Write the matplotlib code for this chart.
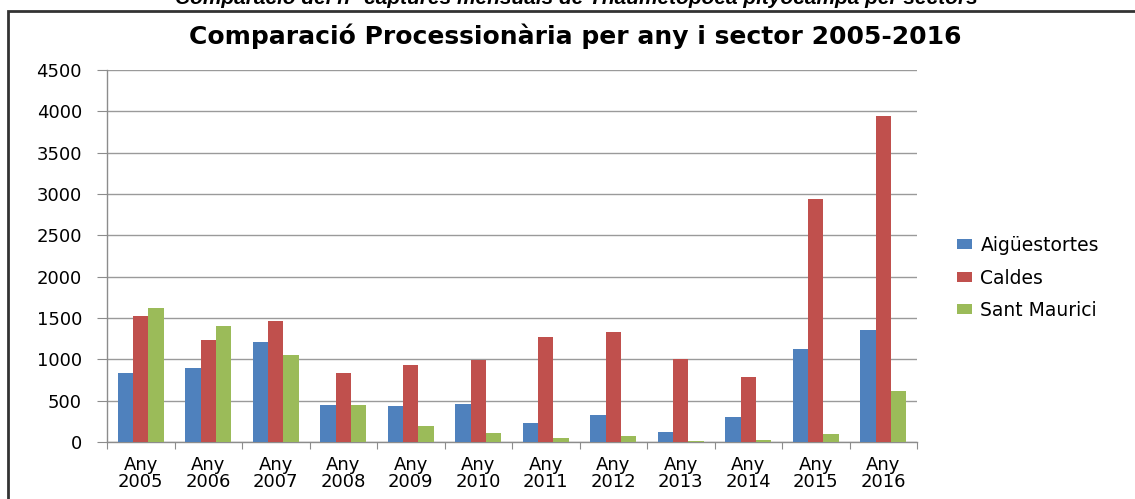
import numpy as np
import matplotlib
matplotlib.use("Agg")
import matplotlib.pyplot as plt
from matplotlib.patches import Rectangle

# Data
years = ["Any\n2005", "Any\n2006", "Any\n2007", "Any\n2008", "Any\n2009", "Any\n2010",
         "Any\n2011", "Any\n2012", "Any\n2013", "Any\n2014", "Any\n2015", "Any\n2016"]
aiguestortes = [838, 898, 1205, 443, 431, 463, 230, 330, 117, 302, 1121, 1354]
caldes = [1527, 1233, 1459, 838, 926, 991, 1274, 1326, 1004, 786, 2938, 3942]
sant_maurici = [1617, 1406, 1048, 443, 197, 105, 48, 69, 12, 24, 97, 613]

series_names = ["Aigüestortes", "Caldes", "Sant Maurici"]
colors = ["#4F81BD", "#C0504D", "#9BBB59"]

title = "Comparació Processionària per any i sector 2005-2016"
caption = "Comparació del n° captures mensuals de Thaumetopoea pityocampa per sectors"

W, H = 1135, 499
fig = plt.figure(figsize=(W / 100, H / 100), dpi=100)
ax = fig.add_axes([107 / W, 1 - 442 / H, (917 - 107) / W, (442 - 70) / H])

x = np.arange(len(years))
bw = 0.227
for k, (vals, name, col) in enumerate(zip([aiguestortes, caldes, sant_maurici], series_names, colors)):
    ax.bar(x + (k - 1) * bw, vals, width=bw, color=col, label=name, zorder=3)

ax.set_xlim(-0.5, len(years) - 0.5)
ax.set_ylim(0, 4500)
ax.set_yticks(np.arange(0, 4501, 500))
ax.yaxis.grid(True, color="#9a9a9a", linewidth=1.0, zorder=0)

# category boundaries get the tick marks, labels sit in the middle
ax.set_xticks(np.arange(-0.5, len(years), 1.0))
ax.set_xticklabels([])
ax.set_xticks(x, minor=True)
ax.set_xticklabels(years, minor=True, fontsize=13, family="DejaVu Sans", linespacing=0.95)
ax.tick_params(axis="x", which="major", length=5, color="#8c8c8c", direction="out")
ax.tick_params(axis="x", which="minor", length=0, pad=10)
ax.tick_params(axis="y", length=7, color="#8c8c8c", pad=11, labelsize=13)
for lab in ax.get_yticklabels():
    lab.set_family("DejaVu Sans")

for s in ["top", "right"]:
    ax.spines[s].set_visible(False)
for s in ["left", "bottom"]:
    ax.spines[s].set_color("#8c8c8c")
    ax.spines[s].set_linewidth(1.0)

ax.legend(loc="center left", bbox_to_anchor=(957 / W, 1 - 278 / H), bbox_transform=fig.transFigure,
          frameon=False, prop={"family": "DejaVu Sans", "size": 13.5},
          handlelength=0.8, handleheight=0.45, handletextpad=0.45,
          labelspacing=0.72, borderpad=0, borderaxespad=0)

fig.text(575 / W, 1 - 36 / H, title, ha="center", va="center", fontsize=18,
         fontweight="bold", family="DejaVu Sans")
fig.text(576 / W, 1 - 4 / H, caption, ha="center", va="baseline", fontsize=15,
         fontweight="bold", style="italic", family="Liberation Sans")

# outer frame, only top and left edges visible
fig.patches.append(Rectangle((8 / W, -0.2), 1.2, 1.2 - 10.5 / H,
                             transform=fig.transFigure, fill=False,
                             edgecolor="#333333", linewidth=2))

fig.savefig("out.png", dpi=100)
